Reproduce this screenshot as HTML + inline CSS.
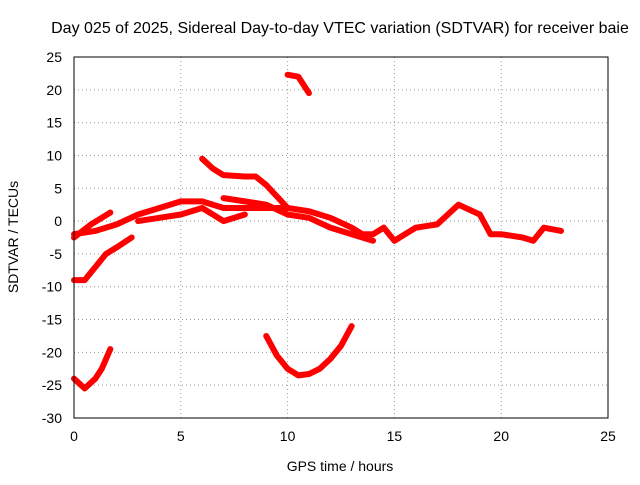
<!DOCTYPE html>
<html><head><meta charset="utf-8"><style>
body{margin:0;background:#fff}
svg text{font-family:"Liberation Sans",sans-serif;font-size:14px;fill:#000}
</style></head><body>
<svg width="640" height="480">
<rect width="640" height="480" fill="#fff"/>
<text x="340" y="33" text-anchor="middle" style="font-size:16px">Day 025 of 2025, Sidereal Day-to-day VTEC variation (SDTVAR) for receiver baie</text>
<g id="grid"></g>
<g id="series"></g>
<rect x="74" y="57" width="534" height="361" fill="none" stroke="#000"/>
<text x="340" y="471" text-anchor="middle">GPS time / hours</text>
<text transform="translate(18,237) rotate(-90)" text-anchor="middle">SDTVAR / TECUs</text>
</svg>
<script>
const xTicks=[0,5,10,15,20,25];
const yTicks=[25,20,15,10,5,0,-5,-10,-15,-20,-25,-30];
const trackA_x=[0,0.5,1,1.3,1.7];
const trackA_y=[-24,-25.5,-24,-22.5,-19.5];
const trackB_x=[0,0.5,1,1.5,2,2.7];
const trackB_y=[-9,-9,-7,-5,-4,-2.5];
const trackC_x=[0,0.8,1.7];
const trackC_y=[-2.5,-0.5,1.3];
const main_x=[0,1,2,3,4,5,6,7,8,9,10,11,12,13,13.5,14,14.5,15,15.5,16,17,17.5,18,19,19.5,20,21,21.5,22,22.8];
const main_y=[-2,-1.5,-0.5,1,2,3,3,2,2,2,2,1.5,0.5,-1,-2,-2,-1,-3,-2,-1,-0.5,1,2.5,1,-2,-2,-2.5,-3,-1,-1.5];
const band2_x=[7,8,9,10,11,12,13,14];
const band2_y=[3.5,3,2.5,1,0.5,-1,-2,-3];
const band3_x=[3,4,5,6,7,8];
const band3_y=[0,0.5,1,2,0,1];
const trackD_x=[6,6.5,7,8,8.5,9,10];
const trackD_y=[9.5,8,7,6.8,6.8,5.5,2];
const trackE_x=[10,10.5,11];
const trackE_y=[22.3,22,19.5];
const trackF_x=[9,9.5,10,10.5,11,11.5,12,12.5,13];
const trackF_y=[-17.5,-20.5,-22.5,-23.5,-23.3,-22.5,-21,-19,-16];
const X=v=>74+v*534/25, Y=v=>57+(25-v)*361/55;
const ns="http://www.w3.org/2000/svg";
const grid=document.getElementById('grid'), ser=document.getElementById('series');
function mk(tag,attrs,parent){const e=document.createElementNS(ns,tag);for(const k in attrs)e.setAttribute(k,attrs[k]);parent.appendChild(e);return e;}
xTicks.forEach(t=>{
  const l=mk('line',{x1:X(t),x2:X(t),y1:57,y2:418,stroke:'#999','stroke-dasharray':'1,3'},grid);
  
  
  const tx=mk('text',{x:X(t),y:441,'text-anchor':'middle'},grid);tx.textContent=t;
  
  
});
yTicks.forEach(t=>{
  const l=mk('line',{x1:74,x2:608,y1:Y(t),y2:Y(t),stroke:'#999','stroke-dasharray':'1,3'},grid);
  
  
  const tx=mk('text',{x:62,y:Y(t)+5,'text-anchor':'end'},grid);tx.textContent=t;
  
  
});
const tracks=[[trackA_x,trackA_y],[trackB_x,trackB_y],[trackC_x,trackC_y],[main_x,main_y],[band2_x,band2_y],[band3_x,band3_y],[trackD_x,trackD_y],[trackE_x,trackE_y],[trackF_x,trackF_y]];
tracks.forEach(([xs,ys])=>{
  const p=mk('polyline',{points:xs.map((x,i)=>X(x)+','+Y(ys[i])).join(' '),fill:'none',stroke:'#f00','stroke-width':6,'stroke-linejoin':'round','stroke-linecap':'round'},ser);
  
  
});
</script>
</body></html>
